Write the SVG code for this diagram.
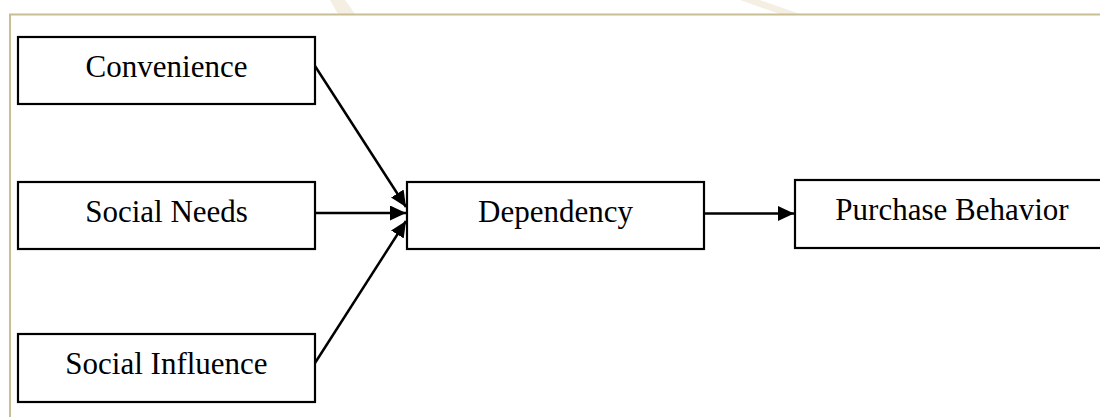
<svg xmlns="http://www.w3.org/2000/svg" width="1100" height="417" viewBox="0 0 1100 417">
  <style>
    .box { fill: #ffffff; stroke: #000000; stroke-width: 2.2; }
    .lbl { font-family: "Liberation Serif", "Times New Roman", serif; font-size: 31px; fill: #000000; text-anchor: middle; }
    .edge { stroke: #000000; stroke-width: 2.5; fill: none; marker-end: url(#arrow); }
    .frame { stroke: #c9bd93; stroke-width: 2; fill: none; }
    .wm { fill: #eadfc6; opacity: 0.5; }
  </style>
  <defs>
    <marker id="arrow" markerUnits="userSpaceOnUse" markerWidth="17" markerHeight="15" refX="16" refY="7.5" orient="auto">
      <path d="M0,0 L16,7.5 L0,15 Z" fill="#000000"/>
    </marker>
  </defs>
  <rect x="0" y="0" width="1100" height="417" fill="#ffffff"/>
  <g id="watermark">
    <polygon class="wm" points="740,0 760,0 800,14 780,14"/>
    <polygon class="wm" points="330,0 345,0 355,14 338,14"/>
  </g>
  <g id="frame">
    <line class="frame" x1="9" y1="14.5" x2="1100" y2="14.5"/>
    <line class="frame" x1="10" y1="14" x2="10" y2="417"/>
  </g>
  <g id="connectors">
    <line class="edge" x1="315" y1="66" x2="406" y2="207"/>
    <line class="edge" x1="315" y1="213" x2="406" y2="213"/>
    <line class="edge" x1="315" y1="363" x2="406" y2="221"/>
    <line class="edge" x1="704" y1="213.5" x2="794" y2="213.5"/>
  </g>
  <g id="node-convenience">
    <rect class="box" x="18" y="37" width="297" height="67"/>
    <text class="lbl" x="166.5" y="77">Convenience</text>
  </g>
  <g id="node-social-needs">
    <rect class="box" x="18" y="182" width="297" height="67"/>
    <text class="lbl" x="166.5" y="222">Social Needs</text>
  </g>
  <g id="node-social-influence">
    <rect class="box" x="18" y="334" width="297" height="68"/>
    <text class="lbl" x="166.5" y="374">Social Influence</text>
  </g>
  <g id="node-dependency">
    <rect class="box" x="407" y="182" width="297" height="67"/>
    <text class="lbl" x="555.5" y="222">Dependency</text>
  </g>
  <g id="node-purchase-behavior">
    <rect class="box" x="795" y="180" width="320" height="68"/>
    <text class="lbl" x="952" y="220">Purchase Behavior</text>
  </g>
</svg>
